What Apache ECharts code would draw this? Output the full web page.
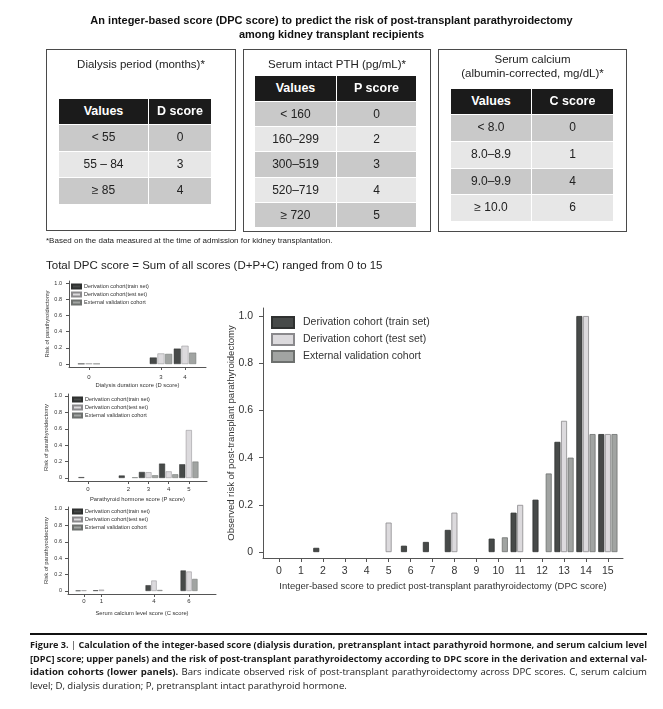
<!DOCTYPE html>
<html><head><meta charset="utf-8">
<script src="https://cdn.jsdelivr.net/npm/echarts@6/dist/echarts.min.js"></script>
<style>
html,body{margin:0;padding:0;background:#fff;}
#wrap{position:relative;width:663px;height:709px;overflow:hidden;font-family:"Liberation Sans",Arial,Helvetica,sans-serif;color:#222;}
#chart{position:absolute;left:0;top:0;width:663px;height:709px;}
.abs{position:absolute;white-space:nowrap;}
.box{position:absolute;border:1px solid #4a4a4a;box-sizing:border-box;}
.bt{position:absolute;text-align:center;font-size:11.5px;line-height:14px;color:#222;}
.cell{position:absolute;box-sizing:border-box;text-align:center;color:#222;font-size:12px;border-right:1px solid #fff;border-bottom:1px solid #fff;}
.hd{background:#1b1b1b;color:#fff;font-weight:bold;font-size:12.5px;}
.cap{position:absolute;left:30px;font-family:"Open Sans","Noto Sans",sans-serif;font-size:9.6px;line-height:13.5px;color:#1a1a1a;}
.cl{white-space:nowrap;}
b{font-weight:bold;}
</style>
</head><body>
<div id="wrap">
  <div id="chart"></div>
  <div class="abs" style="left:0;top:13px;width:663px;text-align:center;font-weight:bold;font-size:11px;line-height:14px;color:#111;">An integer-based score (DPC score) to predict the risk of post-transplant parathyroidectomy<br>among kidney transplant recipients</div>

  <div class="box" style="left:46px;top:49px;width:190px;height:182px;"></div>
  <div class="bt" style="left:46px;top:57px;width:190px;">Dialysis period (months)*</div>
  <div class="box" style="left:243px;top:49px;width:188px;height:183px;"></div>
  <div class="bt" style="left:243px;top:57px;width:188px;">Serum intact PTH (pg/mL)*</div>
  <div class="box" style="left:438px;top:49px;width:189px;height:183px;"></div>
  <div class="bt" style="left:438px;top:52px;width:189px;">Serum calcium<br>(albumin-corrected, mg/dL)*</div>
  <div id="tables"></div>

  <div class="abs" style="left:46px;top:236px;font-size:8px;line-height:10px;color:#222;">*Based on the data measured at the time of admission for kidney transplantation.</div>
  <div class="abs" style="left:46px;top:258px;font-size:11.5px;line-height:14px;color:#222;">Total DPC score = Sum of all scores (D+P+C) ranged from 0 to 15</div>

  <div class="abs" style="left:30px;top:633px;width:617px;height:2px;background:#111;"></div>
  <div class="cap" style="top:638px;width:617px;">
    <div class="cl" data-j="1"><b>Figure 3.</b> | <b>Calculation of the integer-based score (dialysis duration, pretransplant intact parathyroid hormone, and serum calcium level</b></div>
    <div class="cl" data-j="1"><b>[DPC] score; upper panels) and the risk of post-transplant parathyroidectomy according to DPC score in the derivation and external val-</b></div>
    <div class="cl" data-j="1"><b>idation cohorts (lower panels).</b> Bars indicate observed risk of post-transplant parathyroidectomy across DPC scores. C, serum calcium</div>
    <div class="cl">level; D, dialysis duration; P, pretransplant intact parathyroid hormone.</div>
  </div>
</div>
<script>
// ---------- table data ----------
const dHeaders = ['Values', 'D score'];
const dValues = ['< 55', '55 \u2013 84', '\u2265 85'];
const dScores = [0, 3, 4];
const pHeaders = ['Values', 'P score'];
const pValues = ['< 160', '160\u2013299', '300\u2013519', '520\u2013719', '\u2265 720'];
const pScores = [0, 2, 3, 4, 5];
const cHeaders = ['Values', 'C score'];
const cValues = ['< 8.0', '8.0\u20138.9', '9.0\u20139.9', '\u2265 10.0'];
const cScores = [0, 1, 4, 6];

// ---------- chart data ----------
const dpcScores = [0,1,2,3,4,5,6,7,8,9,10,11,12,13,14,15];
const mainTrain = [null,null,0.018,null,null,null,0.027,0.043,0.094,null,0.057,0.167,0.222,0.467,1.0,0.5];
const mainTest  = [null,null,null,null,null,0.125,null,null,0.167,null,null,0.2,null,0.556,1.0,0.5];
const mainExt   = [null,null,null,null,null,null,null,null,null,null,0.0625,null,0.333,0.4,0.5,0.5];

const aTrain = [0.004, 0.08, 0.19];
const aTest  = [0.006, 0.13, 0.225];
const aExt   = [0.004, 0.125, 0.14];

const bTrain = [0.01, 0.03, 0.073, 0.175, 0.167];
const bTest  = [null, null, 0.07, 0.08, 0.584];
const bExt   = [null, 0.008, 0.033, 0.045, 0.2];

const cTrain = [0.005, 0.008, 0.07, 0.25];
const cTest  = [0.008, 0.016, 0.127, 0.237];
const cExt   = [null, null, 0.012, 0.147];

const yTicks = [0, 0.2, 0.4, 0.6, 0.8, 1.0];
const mainNames = ['Derivation cohort (train set)', 'Derivation cohort (test set)', 'External validation cohort'];
const smallNames = ['Derivation cohort(train set)', 'Derivation cohort(test set)', 'External validation cohort'];

// ---------- build tables ----------
function makeTable(left, top, colW, headH, rowH, headers, vals, scores) {
  const host = document.getElementById('tables');
  const add = (x, y, w, h, txt, cls, bg) => {
    const d = document.createElement('div');
    d.className = 'cell ' + cls;
    d.style.left = x + 'px'; d.style.top = y + 'px';
    d.style.width = w + 'px'; d.style.height = h + 'px';
    d.style.lineHeight = (h - 1) + 'px';
    if (bg) d.style.background = bg;
    d.textContent = txt;
    host.appendChild(d);
  };
  add(left, top, colW[0], headH, headers[0], 'hd');
  add(left + colW[0], top, colW[1], headH, headers[1], 'hd');
  let y = top + headH;
  vals.forEach((v, i) => {
    const bg = i % 2 === 0 ? '#c9c9c9' : '#e7e7e7';
    add(left, y, colW[0], rowH, v, '', bg);
    add(left + colW[0], y, colW[1], rowH, String(scores[i]), '', bg);
    y += rowH;
  });
}
makeTable(59, 99, [90, 63], 26, 26.5, dHeaders, dValues, dScores);
makeTable(255, 76, [82, 80], 26, 25.2, pHeaders, pValues, pScores);
makeTable(451, 89, [81, 82], 26, 26.8, cHeaders, cValues, cScores);

// ---------- caption fitting ----------
document.querySelectorAll('.cl').forEach(el => {
  const W = 617;
  el.style.display = 'inline-block';
  const w = el.getBoundingClientRect().width;
  if (w > W) {
    el.style.display = 'block';
    el.style.width = w + 'px';
    el.style.transformOrigin = '0 0';
    el.style.transform = 'scaleX(' + (W / w) + ')';
  } else if (el.dataset.j) {
    el.style.display = 'block';
    el.style.whiteSpace = 'normal';
    el.style.width = W + 'px';
    el.style.textAlign = 'justify';
    el.style.textAlignLast = 'justify';
  } else {
    el.style.display = 'block';
  }
});

// ---------- charts ----------
const fills = ['#474a49', '#dcdadd', '#a1a4a2'];
const strokes = ['#2f3130', '#8a898c', '#6d706e'];

const panels = [
  { grid: {left: 263, top: 308, width: 360, height: 250}, xmin: -0.73, xmax: 15.69, ymin: -0.025, ymax: 1.034,
    cats: dpcScores, vals: [mainTrain, mainTest, mainExt], names: mainNames, barW: 6, bw: 0.8,
    xName: 'Integer-based score to predict post-transplant parathyroidectomy (DPC score)',
    yName: 'Observed risk of post-transplant parathyroidectomy',
    xLblFs: 10.5, yLblFs: 10.5, xLblM: 8, yLblM: 10, nameFs: 9.5, xNameGap: 23, yNameGap: 27, tick: 4,
    lg: {left: 271, top: 316, iw: 22, ih: 11, gap: 4, fs: 10.5, pad: 4} },
  { grid: {left: 69, top: 281, width: 137, height: 86}, xmin: -0.83, xmax: 4.875, ymin: -0.037, ymax: 1.025,
    cats: dScores, vals: [aTrain, aTest, aExt], names: smallNames, barW: 7, bw: 0.5,
    xName: 'Dialysis duration score (D score)', yName: 'Risk of parathyroidectomy',
    xLblFs: 6, yLblFs: 5.5, xLblM: 7, yLblM: 7, nameFs: 5.8, xNameGap: 15, yNameGap: 19, tick: 3,
    lg: {left: 71, top: 283.5, iw: 9, ih: 4, gap: 2, fs: 5.5, pad: -2} },
  { grid: {left: 68, top: 394, width: 139, height: 87}, xmin: -0.99, xmax: 5.9, ymin: -0.037, ymax: 1.024,
    cats: pScores, vals: [bTrain, bTest, bExt], names: smallNames, barW: 6, bw: 0.5,
    xName: 'Parathyroid hormone score (P score)', yName: 'Risk of parathyroidectomy',
    xLblFs: 6, yLblFs: 5.5, xLblM: 5, yLblM: 6, nameFs: 5.8, xNameGap: 15, yNameGap: 19, tick: 3,
    lg: {left: 72, top: 396.5, iw: 9, ih: 4, gap: 2, fs: 5.5, pad: -2} },
  { grid: {left: 68, top: 507, width: 148, height: 87}, xmin: -0.91, xmax: 7.54, ymin: -0.037, ymax: 1.024,
    cats: cScores, vals: [cTrain, cTest, cExt], names: smallNames, barW: 5.3, bw: 0.5,
    xName: 'Serum calcium level score (C score)', yName: 'Risk of parathyroidectomy',
    xLblFs: 6, yLblFs: 5.5, xLblM: 4, yLblM: 6, nameFs: 5.8, xNameGap: 16, yNameGap: 19, tick: 3,
    lg: {left: 72, top: 508.5, iw: 9, ih: 4, gap: 2, fs: 5.5, pad: -2} }
];

const axisColor = '#555';
const txtColor = '#333';
const option = {
  animation: false,
  textStyle: {fontFamily: '"Liberation Sans", Arial, Helvetica, sans-serif'},
  grid: [], xAxis: [], yAxis: [], series: [], legend: []
};
panels.forEach((p, gi) => {
  option.grid.push(Object.assign({outerBoundsMode: 'none', containLabel: false}, p.grid));
  option.xAxis.push({
    type: 'value', gridIndex: gi, min: p.xmin, max: p.xmax,
    axisLine: {show: true, onZero: false, lineStyle: {color: axisColor, width: 1}},
    axisTick: {show: true, customValues: p.cats, length: p.tick, lineStyle: {color: axisColor}},
    axisLabel: {customValues: p.cats, fontSize: p.xLblFs, margin: p.xLblM, color: txtColor},
    splitLine: {show: false},
    name: p.xName, nameLocation: 'middle', nameGap: p.xNameGap, nameMoveOverlap: false,
    nameTextStyle: {fontSize: p.nameFs, color: txtColor}
  });
  option.yAxis.push({
    type: 'value', gridIndex: gi, min: p.ymin, max: p.ymax,
    axisLine: {show: true, onZero: false, lineStyle: {color: axisColor, width: 1}},
    axisTick: {show: true, customValues: yTicks, length: p.tick, lineStyle: {color: axisColor}},
    axisLabel: {customValues: yTicks, fontSize: p.yLblFs, margin: p.yLblM, color: txtColor,
      formatter: v => (v === 0 ? '0' : v.toFixed(1))},
    splitLine: {show: false},
    name: p.yName, nameLocation: 'middle', nameGap: p.yNameGap, nameRotate: 90, nameMoveOverlap: false,
    nameTextStyle: {fontSize: p.nameFs, color: txtColor}
  });
  p.vals.forEach((arr, si) => {
    const data = [];
    arr.forEach((v, i) => { if (v !== null) data.push([p.cats[i], v]); });
    option.series.push({
      type: 'bar', name: p.names[si], xAxisIndex: gi, yAxisIndex: gi,
      data: data, barWidth: p.barW, barGap: '10%',
      itemStyle: {color: fills[si], borderColor: strokes[si], borderWidth: p.bw},
      emphasis: {disabled: true}, silent: true
    });
  });
  option.legend.push({
    orient: 'vertical', left: p.lg.left, top: p.lg.top, padding: 0,
    itemWidth: p.lg.iw, itemHeight: p.lg.ih, itemGap: p.lg.gap, icon: 'rect',
    selectedMode: false, data: p.names,
    textStyle: {fontSize: p.lg.fs, color: txtColor, padding: [0, 0, 0, p.lg.pad]}
  });
});

const chart = echarts.init(document.getElementById('chart'), null, {renderer: 'canvas'});
chart.setOption(option);
</script>
</body></html>
